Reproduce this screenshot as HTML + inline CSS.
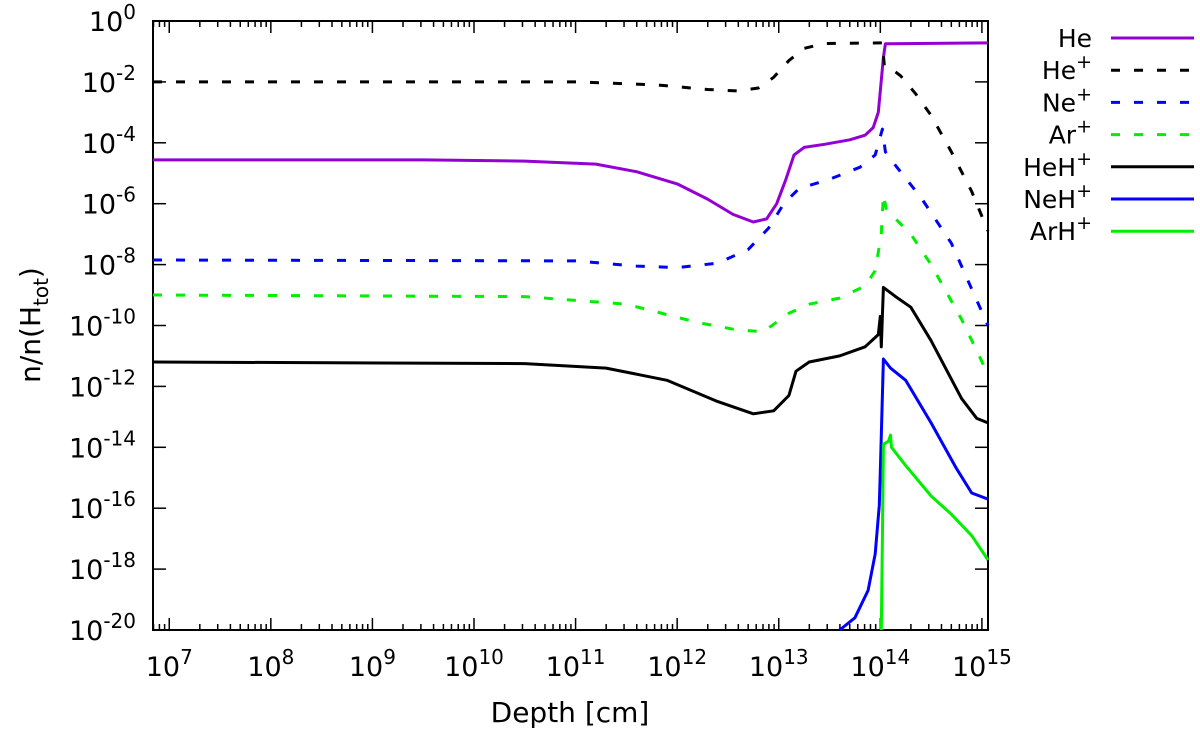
<!DOCTYPE html>
<html><head><meta charset="utf-8"><style>
body{margin:0;background:#fff;}
svg{display:block;font-family:"DejaVu Sans","Liberation Sans",sans-serif;}
</style></head><body>
<svg id="chart" width="1200" height="734" viewBox="0 0 1200 734" xmlns="http://www.w3.org/2000/svg">
<g id="axes"></g><g id="series"></g><g id="legend"></g>
</svg>
<script>
const xTickExps = [7,8,9,10,11,12,13,14,15];
const yTickExps = [0,-2,-4,-6,-8,-10,-12,-14,-16,-18,-20];
const seriesNames = ["He","He+","Ne+","Ar+","HeH+","NeH+","ArH+"];
const seriesColors = ["#9400d3","#000000","#0000ff","#00ee00","#000000","#0000ff","#00ee00"];
const seriesDashed = [false,true,true,true,false,false,false];
const heData = [[6.84,-4.56],[9.5,-4.56],[10.5,-4.6],[11.2,-4.7],[11.6,-4.95],[12.0,-5.35],[12.3,-5.85],[12.55,-6.35],[12.75,-6.6],[12.88,-6.5],[12.98,-6.0],[13.07,-5.2],[13.15,-4.4],[13.25,-4.15],[13.45,-4.05],[13.7,-3.9],[13.85,-3.75],[13.93,-3.5],[13.98,-3.0],[14.0,-2.3],[14.03,-1.2],[14.05,-0.75],[15.06,-0.72]];
const hepData = [[6.84,-2.0],[11.0,-2.0],[11.8,-2.1],[12.3,-2.25],[12.6,-2.3],[12.8,-2.2],[12.95,-1.85],[13.1,-1.3],[13.25,-0.9],[13.45,-0.74],[14.02,-0.72],[14.04,-1.5],[14.1,-1.55],[14.2,-1.8],[14.35,-2.4],[14.5,-3.1],[14.7,-4.3],[14.9,-5.6],[15.06,-6.9]];
const nepData = [[6.84,-7.85],[11.0,-7.88],[11.6,-8.05],[12.0,-8.1],[12.4,-7.95],[12.7,-7.5],[12.9,-6.8],[13.05,-6.0],[13.2,-5.5],[13.5,-5.2],[13.8,-4.8],[13.95,-4.4],[14.02,-3.55],[14.05,-4.3],[14.15,-4.75],[14.4,-5.8],[14.7,-7.3],[14.9,-8.8],[15.06,-10.0]];
const arpData = [[6.84,-9.0],[10.5,-9.05],[11.5,-9.3],[12.2,-9.9],[12.6,-10.15],[12.85,-10.2],[13.1,-9.6],[13.3,-9.3],[13.6,-9.1],[13.85,-8.7],[13.95,-8.2],[14.01,-7.0],[14.03,-5.7],[14.06,-6.2],[14.15,-6.5],[14.3,-7.0],[14.5,-8.0],[14.8,-9.8],[15.06,-11.6]];
const hehpData = [[6.84,-11.2],[10.5,-11.25],[11.3,-11.4],[11.9,-11.8],[12.4,-12.5],[12.75,-12.9],[12.95,-12.8],[13.1,-12.3],[13.17,-11.5],[13.3,-11.2],[13.6,-11.0],[13.85,-10.7],[13.98,-10.3],[14.0,-9.7],[14.01,-10.7],[14.03,-8.75],[14.15,-9.05],[14.3,-9.4],[14.5,-10.5],[14.8,-12.4],[14.95,-13.05],[15.06,-13.2]];
const nehpData = [[13.6,-20],[13.75,-19.6],[13.88,-18.7],[13.95,-17.5],[13.99,-15.9],[14.0,-14.8],[14.03,-11.1],[14.1,-11.4],[14.25,-11.8],[14.5,-13.2],[14.75,-14.7],[14.9,-15.5],[15.06,-15.7]];
const arhpData = [[14.01,-20],[14.02,-17],[14.03,-13.9],[14.08,-13.8],[14.1,-13.6],[14.11,-14.0],[14.25,-14.6],[14.5,-15.6],[14.7,-16.2],[14.9,-16.9],[15.06,-17.7]];
const allData = [heData,hepData,nepData,arpData,hehpData,nehpData,arhpData];

const NS="http://www.w3.org/2000/svg";
const L=153,R=988,T=21,B=630;
const X0=6.84,X1=15.06,Y0=-20,Y1=0;
function sx(v){return L+(v-X0)/(X1-X0)*(R-L);}
function sy(v){return B-(v-Y0)/(Y1-Y0)*(B-T);}
function mk(tag,attrs,parent){const e=document.createElementNS(NS,tag);for(const k in attrs)e.setAttribute(k,attrs[k]);parent.appendChild(e);return e;}
const axes=document.getElementById('axes');
const frame=mk('rect',{x:L,y:T,width:R-L,height:B-T,fill:'none',stroke:'#000','stroke-width':2},axes);


for(let d=6;d<=15;d++){for(let m=1;m<10;m++){const v=d+Math.log10(m);if(v<X0||v>X1)continue;const x=sx(v);const len=m===1?12:6;
 mk('line',{x1:x,y1:B,x2:x,y2:B-len,stroke:'#000','stroke-width':1.5},axes);
 mk('line',{x1:x,y1:T,x2:x,y2:T+len,stroke:'#000','stroke-width':1.5},axes);}}
xTickExps.forEach(e=>{const t=mk('text',{x:sx(e),y:676,'text-anchor':'middle','font-size':27},axes);
 
 
 t.innerHTML='10<tspan dy="-12" font-size="20">'+e+'</tspan>';});
yTickExps.forEach(e=>{const y=sy(e);
 mk('line',{x1:L,y1:y,x2:L+13,y2:y,stroke:'#000','stroke-width':1.5},axes);
 mk('line',{x1:R,y1:y,x2:R-13,y2:y,stroke:'#000','stroke-width':1.5},axes);
 const t=mk('text',{x:136,y:y+10,'text-anchor':'end','font-size':27},axes);
 
 
 t.innerHTML='10<tspan dy="-12" font-size="20">'+e+'</tspan>';});
const xt=mk('text',{x:570,y:722,'text-anchor':'middle','font-size':28},axes);


xt.textContent='Depth [cm]';
const yt=mk('text',{x:0,y:0,'text-anchor':'middle','font-size':28,transform:'translate(40,325) rotate(-90)'},axes);


yt.innerHTML='n/n(H<tspan dy="8" font-size="20">tot</tspan><tspan dy="-8">)</tspan>';
const sg=document.getElementById('series');
allData.forEach((arr,i)=>{const p=mk('polyline',{points:arr.map(d=>sx(d[0]).toFixed(1)+','+sy(d[1]).toFixed(1)).join(' '),fill:'none',stroke:seriesColors[i],'stroke-width':3,'stroke-linejoin':'round'},sg);
 if(seriesDashed[i])p.setAttribute('stroke-dasharray','9,14');
 
 });
const lg=document.getElementById('legend');
seriesNames.forEach((n,i)=>{const y=38+i*32.2;
 const g=mk('g',{},lg);
 
 
 const t=mk('text',{x:1092,y:y+9,'text-anchor':'end','font-size':25},g);
 const base=n.replace('+','');
 t.innerHTML=base+(n.includes('+')?'<tspan dy="-11" font-size="19">+</tspan>':'');
 const l=mk('line',{x1:1111,y1:y,x2:1194,y2:y,stroke:seriesColors[i],'stroke-width':3},g);
 if(seriesDashed[i])l.setAttribute('stroke-dasharray','9,14');});
</script>
</body></html>
